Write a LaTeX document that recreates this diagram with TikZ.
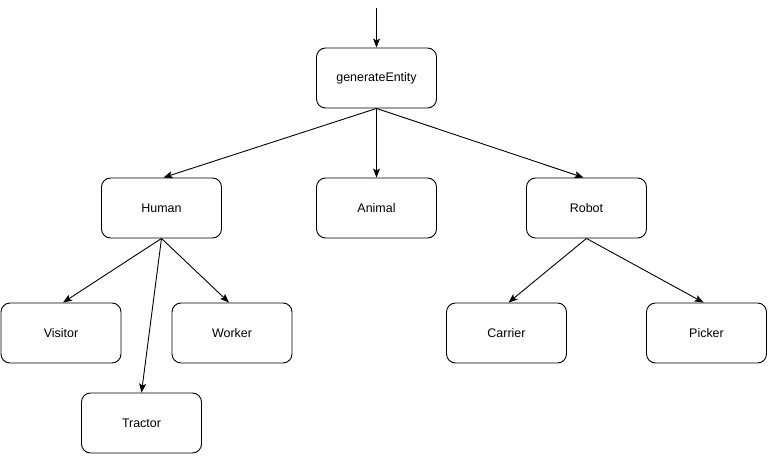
\documentclass[tikz,border=0pt]{standalone}
\usepackage{fontspec}
\setmainfont{Liberation Sans}
\usetikzlibrary{arrows.meta}

\begin{document}
\begin{tikzpicture}[x=1bp,y=-1bp,line width=0.9bp,>={Stealth[length=9bp,width=7bp,inset=2bp]},
	every node/.style={draw=black,rounded corners=9bp,minimum width=120bp,minimum height=60bp,inner sep=0pt,font=\fontsize{12.5}{15}\selectfont}]
\useasboundingbox (0,0) rectangle (769,456);
\coordinate (start) at (376.5,8);
\node (gen) at (376.5,78) {generateEntity};
	\node (human) at (161.5,208) {Human};
		\node (visitor) at (61,333) {Visitor};
		\node (worker) at (232,333) {Worker};
		\node (tractor) at (141.5,423) {Tractor};
	\node (animal) at (376.5,208) {Animal};
	\node (robot) at (586.5,208) {Robot};
		\node (carrier) at (506.5,333) {Carrier};
		\node (picker) at (706.5,333) {Picker};
\draw[->] (start) -- (gen.north);
\draw[->] (gen.south) -- ([xshift=2bp]human.north);
\draw[->] (gen.south) -- (animal.north);
\draw[->] (gen.south) -- ([xshift=-3bp]robot.north);
\draw[->] (human.south) -- ([xshift=2bp]visitor.north);
\draw[->] (human.south) -- ([xshift=-3bp]worker.north);
\draw[->] (human.south) -- (tractor.north);
\draw[->] (robot.south) -- ([xshift=2bp]carrier.north);
\draw[->] (robot.south) -- ([xshift=-3bp]picker.north);
\end{tikzpicture}
\end{document}
